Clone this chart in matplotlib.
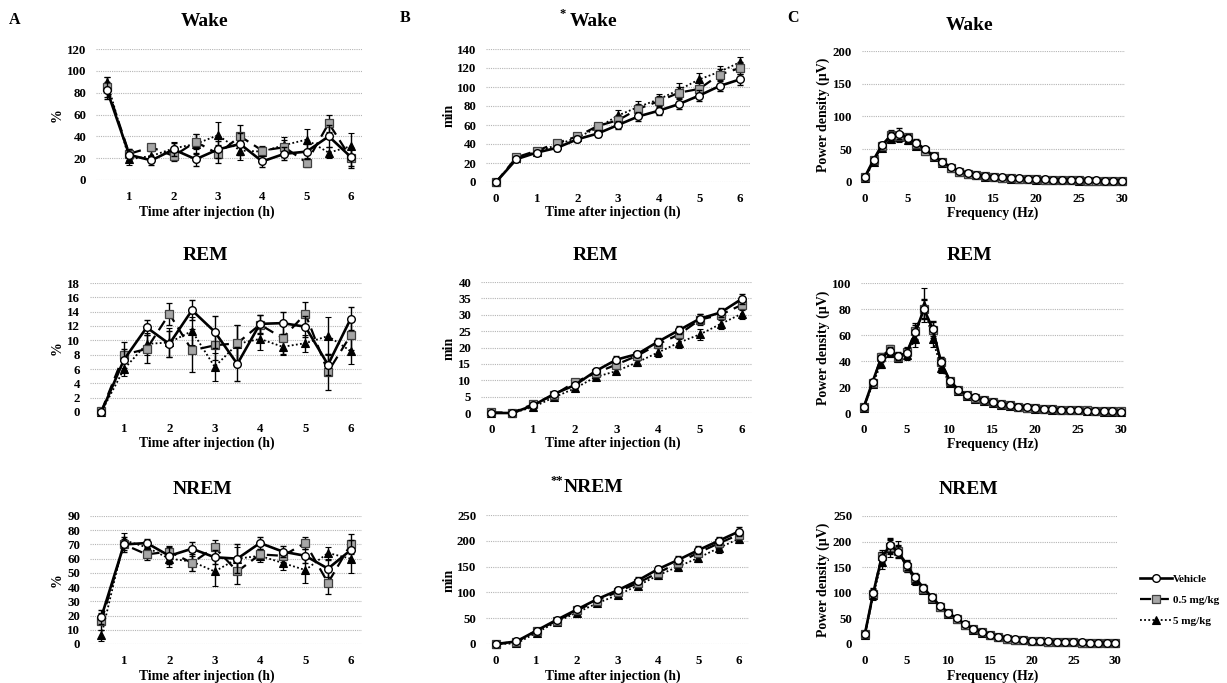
import matplotlib
matplotlib.use("Agg")
import matplotlib.pyplot as plt
from matplotlib.lines import Line2D

plt.rcParams['font.family'] = ['Liberation Serif', 'DejaVu Serif']
plt.rcParams['font.weight'] = 'bold'

# ---------------- data ----------------
series_labels = ["Vehicle", "0.5 mg/kg", "5 mg/kg"]

time_A = [0.5, 1.0, 1.5, 2.0, 2.5, 3.0, 3.5, 4.0, 4.5, 5.0, 5.5, 6.0]
time_B = [0.0, 0.5, 1.0, 1.5, 2.0, 2.5, 3.0, 3.5, 4.0, 4.5, 5.0, 5.5, 6.0]
freq_C = [0, 1, 2, 3, 4, 5, 6, 7, 8, 9, 10, 11, 12, 13, 14, 15, 16, 17, 18, 19,
          20, 21, 22, 23, 24, 25, 26, 27, 28, 29, 30]

# A: % time per 30 min
a_wake_veh = [82, 23, 18, 28, 19, 28, 33, 17, 24, 26, 40, 21]
a_wake_sq = [85, 24, 30, 22, 35, 24, 40, 27, 30, 16, 52, 20]
a_wake_tri = [90, 19, 22, 29, 33, 41, 27, 26, 32, 37, 25, 31]
a_wake_veh_err = [8, 5, 4, 6, 6, 8, 10, 5, 6, 7, 10, 8]
a_wake_sq_err = [9, 4, 3, 5, 7, 8, 10, 4, 7, 4, 8, 9]
a_wake_tri_err = [4, 5, 5, 6, 9, 12, 9, 4, 7, 10, 5, 12]

a_rem_veh = [0, 7.3, 11.8, 9.5, 14.2, 11.2, 6.7, 12.3, 12.4, 11.9, 6.6, 13.0]
a_rem_sq = [0.1, 8.0, 8.8, 13.7, 8.6, 9.3, 9.6, 12.2, 10.3, 13.7, 5.6, 10.7]
a_rem_tri = [0, 6.0, 9.5, 9.7, 11.3, 6.3, 9.5, 10.2, 9.1, 9.6, 10.6, 8.5]
a_rem_veh_err = [0, 1.5, 1.0, 1.8, 1.4, 2.2, 2.4, 1.3, 1.5, 1.5, 1.5, 1.6]
a_rem_sq_err = [0, 1.8, 2.0, 1.5, 3.0, 2.0, 2.5, 1.3, 2.2, 1.7, 2.5, 2.0]
a_rem_tri_err = [0, 1.0, 1.5, 2.0, 2.0, 2.0, 2.6, 1.5, 1.2, 1.2, 2.6, 1.8]

a_nrem_veh = [19, 70, 71, 62, 67, 61, 60, 71, 65, 62, 53, 66]
a_nrem_sq = [16, 70, 63, 65, 57, 68, 51, 63, 62, 71, 43, 70]
a_nrem_tri = [6, 73, 68, 60, 58, 51, 60, 62, 57, 52, 64, 60]
a_nrem_veh_err = [5, 5, 3, 6, 5, 5, 10, 4, 4, 5, 6, 7]
a_nrem_sq_err = [6, 4, 4, 4, 6, 5, 9, 4, 4, 4, 8, 7]
a_nrem_tri_err = [4, 5, 4, 6, 7, 10, 8, 4, 5, 9, 4, 10]

# B: cumulative minutes
b_wake_veh = [0, 24, 31, 36, 45, 51, 60, 69, 75, 82, 91, 101, 108]
b_wake_sq = [0, 26, 33, 41, 48, 59, 65, 77, 85, 94, 98, 113, 120]
b_wake_tri = [0, 25, 32, 39, 47, 57, 70, 79, 87, 97, 108, 116, 126]
b_wake_veh_err = [0, 2, 2, 3, 3, 4, 4, 5, 5, 5, 6, 5, 6]
b_wake_sq_err = [0, 2, 2, 3, 3, 3, 5, 5, 6, 6, 6, 6, 6]
b_wake_tri_err = [0, 2, 2, 3, 3, 3, 6, 6, 6, 7, 7, 6, 6]

b_rem_veh = [0, 0, 2.3, 5.8, 8.5, 12.8, 16.3, 18.0, 21.8, 25.3, 28.8, 30.7, 34.8]
b_rem_sq = [0.2, 0.1, 2.7, 5.5, 9.4, 12.2, 14.8, 17.5, 21.0, 24.0, 28.5, 30.0, 33.0]
b_rem_tri = [0, 0, 1.8, 4.8, 7.5, 11.0, 12.8, 15.5, 18.5, 21.5, 24.0, 27.2, 30.3]
b_rem_veh_err = [0, 0, 0.5, 0.7, 0.8, 1.0, 1.0, 1.0, 1.2, 1.3, 1.4, 1.3, 1.5]
b_rem_sq_err = [0, 0, 0.5, 0.6, 0.8, 1.0, 1.1, 1.1, 1.3, 1.4, 1.6, 1.5, 1.6]
b_rem_tri_err = [0, 0, 0.4, 0.6, 0.8, 0.9, 1.0, 1.2, 1.4, 1.5, 1.7, 1.7, 1.6]

b_nrem_veh = [0, 5, 26, 47, 67, 87, 104, 123, 145, 163, 182, 200, 218]
b_nrem_sq = [0, 4, 26, 45, 65, 84, 101, 118, 138, 157, 177, 195, 212]
b_nrem_tri = [0, 1, 22, 43, 61, 79, 95, 113, 133, 150, 167, 186, 204]
b_nrem_veh_err = [0, 2, 3, 4, 4, 5, 6, 6, 7, 7, 8, 8, 8]
b_nrem_sq_err = [0, 2, 3, 4, 4, 5, 6, 6, 7, 8, 8, 8, 9]
b_nrem_tri_err = [0, 1, 3, 4, 4, 5, 6, 7, 7, 8, 9, 9, 9]

# C: power spectra
c_wake_veh = [8, 34, 57, 70, 74, 67, 60, 50, 40, 31, 23, 17, 13, 11, 9, 8, 7, 6,
              5.5, 5, 4, 4, 3.5, 3.5, 3, 3, 2.5, 2.5, 2, 2, 2]
c_wake_sq = [7, 33, 55, 72, 70, 68, 58, 48, 39, 30, 22, 16, 12, 10, 8.5, 7.5, 6.5,
             5.5, 5, 4.5, 4, 3.5, 3, 3, 2.5, 2.5, 2, 2, 2, 1.5, 1.5]
c_wake_tri = [6, 30, 52, 66, 68, 64, 55, 47, 38, 29, 21, 16, 12, 10, 8, 7, 6, 5,
              4.5, 4, 3.5, 3, 3, 2.5, 2.5, 2, 2, 1.5, 1.5, 1.5, 1]
c_wake_veh_err = [1, 3, 4, 6, 8, 6, 5, 4, 3, 2, 2, 1.5, 1, 1, 1, 1, 1, 1, 1, 0.5,
                  0.5, 0.5, 0.5, 0.5, 0.5, 0.5, 0.5, 0.5, 0.5, 0.5, 0.5]
c_wake_sq_err = [1, 3, 4, 7, 7, 6, 5, 4, 3, 2, 2, 1.5, 1, 1, 1, 1, 1, 1, 1, 0.5,
                 0.5, 0.5, 0.5, 0.5, 0.5, 0.5, 0.5, 0.5, 0.5, 0.5, 0.5]
c_wake_tri_err = [1, 3, 4, 6, 7, 6, 5, 4, 3, 2, 2, 1.5, 1, 1, 1, 1, 1, 1, 1, 0.5,
                  0.5, 0.5, 0.5, 0.5, 0.5, 0.5, 0.5, 0.5, 0.5, 0.5, 0.5]

c_rem_veh = [5, 24, 42, 48, 44, 46, 62, 80, 65, 39, 25, 18, 14, 12, 10, 8.5, 7, 6,
             5, 4.5, 3.5, 3, 3, 2.5, 2.5, 2, 1.5, 1.5, 1.5, 1.5, 1]
c_rem_sq = [5, 23, 43, 49, 43, 47, 63, 80, 64, 39, 25, 18, 14, 11.5, 10, 8.5, 7, 6,
            5, 4, 3.5, 3, 3, 2.5, 2.5, 2, 2, 1.5, 1.5, 1.5, 1.5]
c_rem_tri = [4, 22, 38, 46, 42, 45, 57, 83, 57, 35, 23, 17, 13, 11, 9.5, 8, 6.5,
             5.5, 4.5, 4, 3, 3, 2.5, 2, 2, 2, 1.5, 1.5, 1, 1, 1]
c_rem_veh_err = [0.5, 2, 3, 3, 3, 4, 6, 8, 6, 4, 2, 1.5, 1, 1, 1, 1, 0.5, 0.5, 0.5,
                 0.5, 0.5, 0.5, 0.5, 0.5, 0.5, 0.5, 0.5, 0.5, 0.5, 0.5, 0.5]
c_rem_sq_err = [0.5, 2, 3, 3, 3, 4, 6, 7, 6, 4, 2, 1.5, 1, 1, 1, 1, 0.5, 0.5, 0.5,
                0.5, 0.5, 0.5, 0.5, 0.5, 0.5, 0.5, 0.5, 0.5, 0.5, 0.5, 0.5]
c_rem_tri_err = [0.5, 2, 3, 3, 3, 4, 6, 13, 6, 4, 2, 1.5, 1, 1, 1, 1, 0.5, 0.5,
                 0.5, 0.5, 0.5, 0.5, 0.5, 0.5, 0.5, 0.5, 0.5, 0.5, 0.5, 0.5, 0.5]

c_nrem_veh = [20, 100, 168, 193, 180, 155, 130, 110, 92, 75, 61, 50, 39, 30, 24,
              18, 14, 11, 9, 7.5, 6.5, 5.5, 5, 4.5, 4, 3.5, 3, 2.5, 2, 2, 1.5]
c_nrem_sq = [19, 98, 172, 190, 182, 150, 128, 108, 90, 73, 60, 49, 38, 29, 23, 17,
             13, 10.5, 8.5, 7, 6, 5, 4.5, 4, 3.5, 3, 2.5, 2.5, 2, 2, 1.5]
c_nrem_tri = [17, 95, 160, 188, 188, 152, 125, 106, 88, 72, 58, 48, 37, 28, 22,
              17, 13, 10, 8, 7, 6, 5, 4.5, 4, 3.5, 3, 2.5, 2, 2, 1.5, 1]
c_nrem_veh_err = [3, 10, 12, 15, 12, 10, 9, 7, 6, 5, 4, 3, 3, 2, 2, 2, 1.5, 1.5,
                  1, 1, 1, 1, 1, 1, 1, 1, 1, 1, 1, 1, 1]
c_nrem_sq_err = [3, 10, 12, 14, 12, 10, 9, 7, 6, 5, 4, 3, 3, 2, 2, 2, 1.5, 1.5,
                 1, 1, 1, 1, 1, 1, 1, 1, 1, 1, 1, 1, 1]
c_nrem_tri_err = [3, 10, 14, 18, 14, 11, 9, 7, 6, 5, 4, 3, 3, 2, 2, 2, 1.5, 1.5,
                  1, 1, 1, 1, 1, 1, 1, 1, 1, 1, 1, 1, 1]

# ---------------- figure ----------------
W, H = 1227, 683
fig = plt.figure(figsize=(W / 100, H / 100), dpi=100)


def rect(x0, y0, x1, y1):
    return [x0 / W, 1 - y1 / H, (x1 - x0) / W, (y1 - y0) / H]


styles = [
    dict(marker='o', mfc='white', mec='black', ls='-', lw=1.9, ms=5.5, mew=1.0),
    dict(marker='s', mfc='#a6a6a6', mec='#404040', ls=(0, (5, 3)), lw=1.6, ms=5.5, mew=0.9),
    dict(marker='^', mfc='black', mec='black', ls=(0, (1, 1.3)), lw=1.3, ms=5.5, mew=0.8),
]
zorders = [5, 4, 3]


def panel(r, x, ys, errs, ylim, yticks, xlim, xticks):
    ax = fig.add_axes(rect(*r))
    for y, e, st, z in zip(ys, errs, styles, zorders):
        ax.errorbar(x, y, yerr=e, color='black', ecolor='black', elinewidth=1.0,
                    capsize=2.5, capthick=1.0, clip_on=False, zorder=z, **st)
    ax.set_xlim(*xlim)
    ax.set_ylim(*ylim)
    ax.set_yticks(yticks)
    ax.set_xticks(xticks)
    ax.grid(axis='y', linestyle=(0, (1, 1)), color='#b5b5b5', lw=0.8)
    ax.set_axisbelow(True)
    for s in ax.spines.values():
        s.set_visible(False)
    ax.tick_params(length=0, labelsize=9.3)
    ax.tick_params(axis='y', pad=7)
    ax.tick_params(axis='x', pad=8)
    for lab in ax.get_xticklabels() + ax.get_yticklabels():
        lab.set_fontweight('bold')
    return ax


tick_time_A = [1, 2, 3, 4, 5, 6]
tick_time_B = [0, 1, 2, 3, 4, 5, 6]
tick_freq = [0, 5, 10, 15, 20, 25, 30]

# Column A
panel((96, 49, 362, 180), time_A, [a_wake_veh, a_wake_sq, a_wake_tri],
      [a_wake_veh_err, a_wake_sq_err, a_wake_tri_err],
      (0, 120), [0, 20, 40, 60, 80, 100, 120], (0.25, 6.25), tick_time_A)
panel((90, 283, 362, 412), time_A, [a_rem_veh, a_rem_sq, a_rem_tri],
      [a_rem_veh_err, a_rem_sq_err, a_rem_tri_err],
      (0, 18), [0, 2, 4, 6, 8, 10, 12, 14, 16, 18], (0.25, 6.25), tick_time_A)
panel((90, 516, 362, 644), time_A, [a_nrem_veh, a_nrem_sq, a_nrem_tri],
      [a_nrem_veh_err, a_nrem_sq_err, a_nrem_tri_err],
      (0, 90), [0, 10, 20, 30, 40, 50, 60, 70, 80, 90], (0.25, 6.25), tick_time_A)

# Column B
panel((486, 49, 750, 182), time_B, [b_wake_veh, b_wake_sq, b_wake_tri],
      [b_wake_veh_err, b_wake_sq_err, b_wake_tri_err],
      (0, 140), [0, 20, 40, 60, 80, 100, 120, 140], (-0.25, 6.25), tick_time_B)
panel((481, 282, 752, 413), time_B, [b_rem_veh, b_rem_sq, b_rem_tri],
      [b_rem_veh_err, b_rem_sq_err, b_rem_tri_err],
      (0, 40), [0, 5, 10, 15, 20, 25, 30, 35, 40], (-0.25, 6.25), tick_time_B)
panel((486, 515, 749, 644), time_B, [b_nrem_veh, b_nrem_sq, b_nrem_tri],
      [b_nrem_veh_err, b_nrem_sq_err, b_nrem_tri_err],
      (0, 250), [0, 50, 100, 150, 200, 250], (-0.25, 6.25), tick_time_B)

# Column C
panel((862, 51, 1125, 182), freq_C, [c_wake_veh, c_wake_sq, c_wake_tri],
      [c_wake_veh_err, c_wake_sq_err, c_wake_tri_err],
      (0, 200), [0, 50, 100, 150, 200], (-0.35, 30.35), tick_freq)
panel((861, 283, 1124, 413), freq_C, [c_rem_veh, c_rem_sq, c_rem_tri],
      [c_rem_veh_err, c_rem_sq_err, c_rem_tri_err],
      (0, 100), [0, 20, 40, 60, 80, 100], (-0.35, 30.35), tick_freq)
panel((862, 516, 1118, 644), freq_C, [c_nrem_veh, c_nrem_sq, c_nrem_tri],
      [c_nrem_veh_err, c_nrem_sq_err, c_nrem_tri_err],
      (0, 250), [0, 50, 100, 150, 200, 250], (-0.35, 30.35), tick_freq)


def ftext(x, y, s, size, **kw):
    fig.text(x / W, 1 - y / H, s, fontsize=size, fontweight='bold',
             ha=kw.pop('ha', 'center'), va=kw.pop('va', 'center'), **kw)


# panel letters
ftext(15, 20, "A", 11.5)
ftext(405, 18, "B", 11.5)
ftext(793, 18, "C", 11.5)

# titles
ftext(205, 22, "Wake", 14)
ftext(205, 256, "REM", 14)
ftext(203, 489, "NREM", 14)
ftext(594, 22, "Wake", 14)
ftext(563, 14, "*", 9)
ftext(595, 255, "REM", 14)
ftext(594, 488, "NREM", 14)
ftext(557, 481, "**", 9)
ftext(970, 25, "Wake", 14)
ftext(969, 256, "REM", 14)
ftext(969, 490, "NREM", 14)

# x labels
for yy in (212, 443, 676):
    ftext(207, yy, "Time after injection (h)", 9.8)
for yy in (212, 443, 676):
    ftext(613, yy, "Time after injection (h)", 9.8)
for yy in (213, 444, 676):
    ftext(993, yy, "Frequency (Hz)", 9.8)

# y labels
for yy in (115, 348, 580):
    ftext(57, yy, "%", 10, rotation=90)
    ftext(449, yy, "min", 10, rotation=90)
    ftext(823, yy, "Power density (\u00b5V)", 10, rotation=90)

leg_handles = [
    Line2D([], [], color='black', **styles[0]),
    Line2D([], [], color='black', **styles[1]),
    Line2D([], [], color='black', **styles[2]),
]
fig.legend(leg_handles, series_labels, loc='center left',
           bbox_to_anchor=(1136 / W, 1 - 600 / H), frameon=False,
           prop=dict(size=8.0, weight='bold'), handlelength=2.8,
           handletextpad=0.15, labelspacing=1.0, borderaxespad=0)

fig.savefig("out.png", dpi=100)
